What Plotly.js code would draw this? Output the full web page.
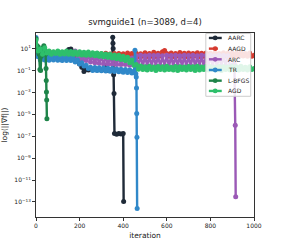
<!DOCTYPE html>
<html><head><meta charset="utf-8">
<script src="https://cdn.plot.ly/plotly-3.0.1.min.js"></script>
<style>html,body{margin:0;padding:0;background:#fff}#c{width:283px;height:245px}</style>
</head><body><div id="c"></div>
<script>
var seriesNames = ['AARC','AAGD','ARC','TR','L-BFGS','AGD'];
var seriesColors = ['#1f2a38','#d63a2f','#9b59b6','#3088c9','#1e8449','#2ebf6b'];
var seriesDash = ['solid','dash','solid','solid','solid','solid'];

var aarcIter = [0,10,20,30,40,50,60,70,80,90,100,110,120,130,140,150,155,160,170,180,190,200,210,220,230,240,250,260,270,280,290,300,310,320,330,340,350,352,353,354,356,358,360,370,380,390,400,402];
var aarcGrad = [12,3,5,3,4.5,3,4,3,4,3,4,3,3.8,3,4,8,4,9,5,2,1,0.4,0.2,0.08,0.13,0.11,0.14,0.12,0.14,0.11,0.13,0.11,0.12,0.3,0.1,0.11,0.1,110,30,10,0.04,8e-4,1.8e-7,1.5e-7,1.8e-7,1.6e-7,1.8e-7,1.1e-13];

var iter10 = [0,10,20,30,40,50,60,70,80,90,100,110,120,130,140,150,160,170,180,190,200,210,220,230,240,250,260,270,280,290,300,310,320,330,340,350,360,370,380,390,400,410,420,430,440,450,460,470,480,490,500,510,520,530,540,550,560,570,580,590,600,610,620,630,640,650,660,670,680,690,700,710,720,730,740,750,760,770,780,790,800,810,820,830,840,850,860,870,880,890,900,910,920,930,940,950,960,970,980,990,1000];

var aagdGrad = [10,4,6,3,5,3.5,5,3,4.5,3,
 4.5,3,4.2,2.8,4.5,2.8,4,2.6,4,2.5,
 3.8,2.4,3.6,2.2,3.8,2,3.5,2,3.6,1.9,
 3.4,1.8,3.8,1.9,3.2,1.8,3.5,1.7,3.6,1.8,
 3.3,1.8,4,1.9,3.5,1.8,3.8,1.9,3.4,2,
 4.2,1.9,3.6,2,4.5,1.9,3.8,2.1,5,6.5,
 3.5,2,4,1.9,3.6,2.1,4.4,2,3.8,1.9,
 4,2,3.6,2.1,4.2,1.9,3.7,2,4,2,
 3.8,2,4,1.9,3.6,2.1,4.2,2,3.8,2,
 4,1.9,3.7,2,4.1,2.1,3.6,2,3.9,2,
 2.5];

var arcIter = [0,10,20,30,40,50,60,70,80,90,100,110,120,130,140,150,160,170,180,190,200,210,220,230,240,250,260,270,280,290,300,310,320,330,340,350,360,370,380,390,400,410,420,430,440,450,460,470,480,490,500,510,520,530,540,550,560,570,580,590,600,610,620,630,640,650,660,670,680,690,700,710,720,730,740,750,760,770,780,790,800,810,820,830,840,850,860,870,880,890,900,910,914,916];
var arcGrad = [8,2,4,1.6,3.5,1.8,3.2,1.5,3,1.6,3.2,1.5,3,1.4,3,1.5,2.8,1.3,6,1.2,
 2.6,1,2.4,0.8,2.2,0.6,2,0.5,1.8,0.45,1.7,0.4,1.6,0.4,1.5,0.38,1.6,0.35,1.5,0.35,
 1.4,0.35,1.5,0.3,1.4,0.3,2.2,0.25,2.4,0.22,2.2,0.25,2.5,0.2,2.3,0.24,2.4,0.22,2.2,0.25,
 2.4,0.22,2.3,0.2,2.5,0.24,2.2,0.22,2.4,0.2,2.3,0.25,2.4,0.22,2.2,0.24,2.5,0.2,2.3,0.22,
 2.4,0.24,2.2,0.2,2.4,0.22,2.3,0.25,2.2,0.22,0.3,0.4,1e-6,3e-13];

var trIter = [0,3,6,10,20,30,40,50,60,70,80,90,100,110,120,130,140,150,160,170,180,190,200,210,220,230,240,250,260,270,280,290,300,310,320,330,340,350,360,370,380,390,400,410,420,430,440,450,454,458,460,461,462,463,464];
var trGrad = [100,12,2.5,1.8,0.9,1.7,0.9,1.8,0.85,1.7,0.9,1.6,0.85,1.7,0.8,1.6,0.8,1.5,0.8,1.4,
 0.6,0.9,0.4,0.5,0.25,0.3,0.15,0.2,0.1,0.19,0.1,0.18,0.095,0.17,0.09,0.16,0.085,0.15,0.08,0.14,
 0.075,0.13,0.07,0.12,0.065,0.11,0.06,0.09,7,0.05,0.025,2.5e-3,1.2e-5,8e-8,2.5e-14];

var lbfgsIter = [0,3,6,10,14,18,21,24,28,32,36,40,44,46,47,48,49,50];
var lbfgsGrad = [80,20,6,15,3,0.12,0.1,2,5,12,18,8,3,0.15,0.012,1.1e-3,2e-4,4e-6];

var agdGrad = [60,6,9,3,12,4,6,3,5,3.5,
 6,3,5,3.2,6,3,5.5,3,5,2.8,
 5,2.6,4.5,2.5,4.8,2.4,4.2,2.2,4,2,
 3.6,1.8,3.2,1.6,3,1.4,2.6,1.2,2.4,1,
 2,0.8,1.6,0.5,0.9,0.3,0.35,0.13,0.25,0.12,
 0.22,0.11,0.24,0.12,0.21,0.1,0.23,0.12,0.22,0.11,
 0.24,0.12,0.2,0.11,0.23,0.1,0.22,0.12,0.21,0.11,
 0.23,0.12,0.22,0.1,0.24,0.11,0.21,0.12,0.23,0.11,
 0.22,0.12,0.2,0.11,0.23,0.1,0.22,0.12,0.21,0.11,
 0.23,0.12,0.22,0.11,0.24,0.12,0.2,0.11,0.22,0.12,
 0.15];

var xTicks = [0,200,400,600,800,1000];
var yTickVals = [1e1,1e-1,1e-3,1e-5,1e-7,1e-9,1e-11,1e-13];
var yTickText = ['10<sup>1</sup>','10<sup>\u22121</sup>','10<sup>\u22123</sup>','10<sup>\u22125</sup>','10<sup>\u22127</sup>','10<sup>\u22129</sup>','10<sup>\u221211</sup>','10<sup>\u221213</sup>'];

var xs = [aarcIter, iter10, arcIter, trIter, lbfgsIter, iter10];
var ys = [aarcGrad, aagdGrad, arcGrad, trGrad, lbfgsGrad, agdGrad];

var traces = seriesNames.map(function(n,i){
  return {x: xs[i], y: ys[i], name: n, type:'scatter', mode:'lines+markers',
    line:{color: seriesColors[i], width:2.4, dash: seriesDash[i]},
    marker:{color: seriesColors[i], size:5, symbol:'circle'},
    showlegend:false, hoverinfo:'skip'};
});

// manual legend (compact, like matplotlib)
var shapes = [], annotations = [];
var lgX0 = 0.779, lgX1 = 0.985, lgY0 = 0.656, lgY1 = 0.997;
shapes.push({type:'rect', xref:'paper', yref:'paper', x0:lgX0, x1:lgX1, y0:lgY0, y1:lgY1,
  fillcolor:'rgba(255,255,255,0.85)', line:{color:'#cccccc', width:1}, layer:'above'});
var rowY = [0.973,0.915,0.857,0.799,0.741,0.685];
seriesNames.forEach(function(n,i){
  shapes.push({type:'line', xref:'paper', yref:'paper', x0:0.793, x1:0.852, y0:rowY[i], y1:rowY[i],
    line:{color:seriesColors[i], width:2.4, dash: seriesDash[i]==='dash'?'dash':'solid'}, layer:'above'});
  shapes.push({type:'circle', xref:'paper', yref:'paper', x0:0.822-0.011, x1:0.822+0.011,
    y0:rowY[i]-0.013, y1:rowY[i]+0.013, fillcolor:seriesColors[i], line:{color:seriesColors[i], width:0}, layer:'above'});
  annotations.push({xref:'paper', yref:'paper', x:0.872, y:rowY[i], xanchor:'left', yanchor:'middle',
    text:n, showarrow:false, font:{family:'DejaVu Sans', size:6, color:'#222'}});
});

var layout = {
  width:283, height:245,
  margin:{l:36, r:29, t:33, b:28, pad:0},
  paper_bgcolor:'#fff', plot_bgcolor:'#fff',
  font:{family:'DejaVu Sans', size:6, color:'#222'},
  title:{text:'svmguide1 (n=3089, d=4)', x:0.5, xref:'paper', xanchor:'center', y:0.911, yanchor:'middle',
    font:{family:'DejaVu Sans', size:8.5, color:'#222'}},
  xaxis:{range:[0,1000], tickvals:xTicks, ticks:'outside', ticklen:3, tickwidth:1, tickcolor:'#333',
    showline:true, mirror:true, linecolor:'#333', linewidth:1, showgrid:false, zeroline:false,
    tickfont:{size:6}, title:{text:'iteration', font:{size:7.5}, standoff:4}},
  yaxis:{type:'log', range:[-14.37,2.42], tickvals:yTickVals, ticktext:yTickText, ticks:'outside', ticklen:3, tickwidth:1,
    tickcolor:'#333', showline:true, mirror:true, linecolor:'#333', linewidth:1, showgrid:false, zeroline:false,
    tickfont:{size:6}, title:{text:'log(||\u2207f||)', font:{size:7.5}, standoff:7}},
  shapes:shapes, annotations:annotations
};
Plotly.newPlot('c', traces, layout, {staticPlot:true, displayModeBar:false});
</script></body></html>
